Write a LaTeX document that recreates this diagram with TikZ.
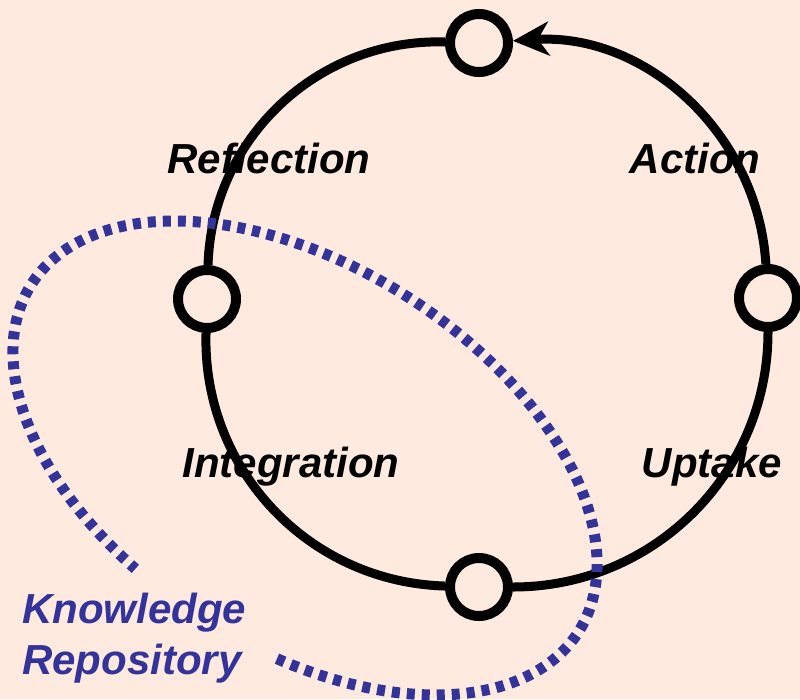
\documentclass[tikz,border=0pt]{standalone}
\usepackage{fontspec}
\setmainfont{Liberation Sans}
\usetikzlibrary{arrows.meta}
\definecolor{peach}{RGB}{255,234,224}
\definecolor{repoblue}{RGB}{51,51,153}
\begin{document}
\begin{tikzpicture}[x=1pt, y=1pt,
  stage/.style={circle, draw=black, line width=10pt, fill=peach, minimum size=58pt, inner sep=0pt},
  stagetext/.style={font=\fontsize{42}{51}\selectfont\bfseries\itshape, inner sep=0pt},
  loopline/.style={line width=9pt}]
\useasboundingbox (0,0) rectangle (800,-699);
\fill[peach] (0,0) rectangle (800,-699);
% the four stages of the cycle
\node[stage] (top) at (479,-43) {};
\node[stage] (left) at (207,-299) {};
\node[stage] (bottom) at (479,-587) {};
\node[stage] (right) at (768,-298) {};
\draw[loopline] (top) to[bend right=45] (left);
\draw[loopline] (left) to[bend right=45] (bottom);
\draw[loopline] (bottom) to[bend right=45] (right);
\draw[loopline, -{Stealth[length=36pt, width=34pt, inset=11pt]}] (right) to[bend right=45] (top);
\node[stagetext, anchor=base] (reflection) at (269,-173) {Reflection};
\node[stagetext, anchor=base] (action) at (695,-173) {Action};
\node[stagetext, anchor=base] (integration) at (291,-477) {Integration};
\node[stagetext, anchor=base] (uptake) at (712,-477) {Uptake};
% repository
\begin{scope}[shift={(305,-458)}, rotate=-32.4]
\draw[repoblue, line width=11pt, dash pattern=on 8pt off 7pt] (-75:324 and 191) arc[start angle=-75, end angle=255, x radius=324, y radius=191];
\end{scope}
\node[stagetext, text=repoblue, align=left, anchor=north west] (repo) at (22,-593) {Knowledge\\Repository};
\end{tikzpicture}
\end{document}
